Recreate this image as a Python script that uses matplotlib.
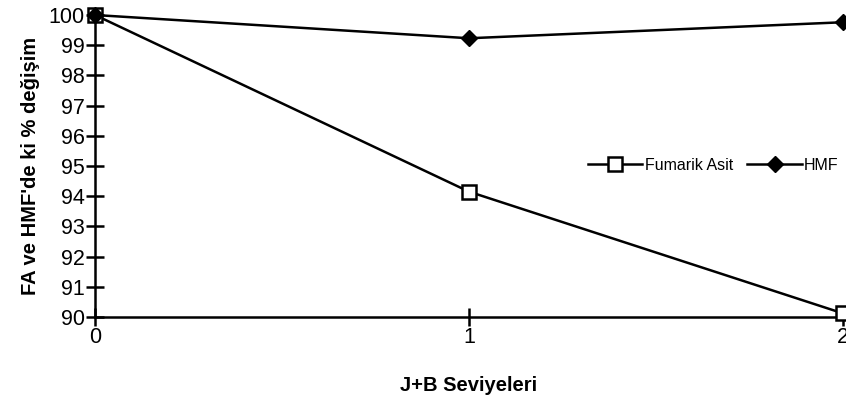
import matplotlib
matplotlib.use("Agg")
import matplotlib.pyplot as plt

plt.rcParams['font.family'] = ['Liberation Sans', 'DejaVu Sans']

# J+B levels and % change of fumaric acid and HMF
levels = [0, 1, 2]
fumarik_asit = [100.0, 94.15, 90.12]
hmf = [100.0, 99.23, 99.76]
y_ticks = list(range(90, 101))

fig = plt.figure(figsize=(8.46, 4.01), dpi=100)
ax = fig.add_axes([95 / 846, 84 / 401, 748 / 846, 302 / 401])

ax.plot(levels, fumarik_asit, color='black', lw=1.8, marker='s', ms=10,
        mfc='white', mec='black', mew=1.8, label='Fumarik Asit', clip_on=False, zorder=3)
ax.plot(levels, hmf, color='black', lw=1.8, marker='D', ms=8,
        mfc='black', mec='black', label='HMF', clip_on=False, zorder=4)

ax.set_xlim(0, 2)
ax.set_ylim(90, 100)
ax.set_xticks(levels)
ax.set_yticks(y_ticks)
ax.tick_params(axis='both', direction='inout', length=13, width=1.8, labelsize=15.5)
ax.tick_params(axis='x', pad=1)
ax.tick_params(axis='y', pad=1)

for side in ['top', 'right']:
    ax.spines[side].set_visible(False)
for side in ['left', 'bottom']:
    ax.spines[side].set_linewidth(1.8)

ax.set_xlabel('J+B Seviyeleri', fontsize=14.5, fontweight='bold', labelpad=20)
ax.set_ylabel("FA ve HMF'de ki % değişim", fontsize=14.5, fontweight='bold', labelpad=6)

fig.legend(loc='center right', bbox_to_anchor=(1.0, 1 - 165 / 401), ncol=2,
           frameon=False, fontsize=11.5, handlelength=3.4, handletextpad=0.15,
           columnspacing=0.9, borderaxespad=0.05)

fig.savefig('out.png', dpi=100)
